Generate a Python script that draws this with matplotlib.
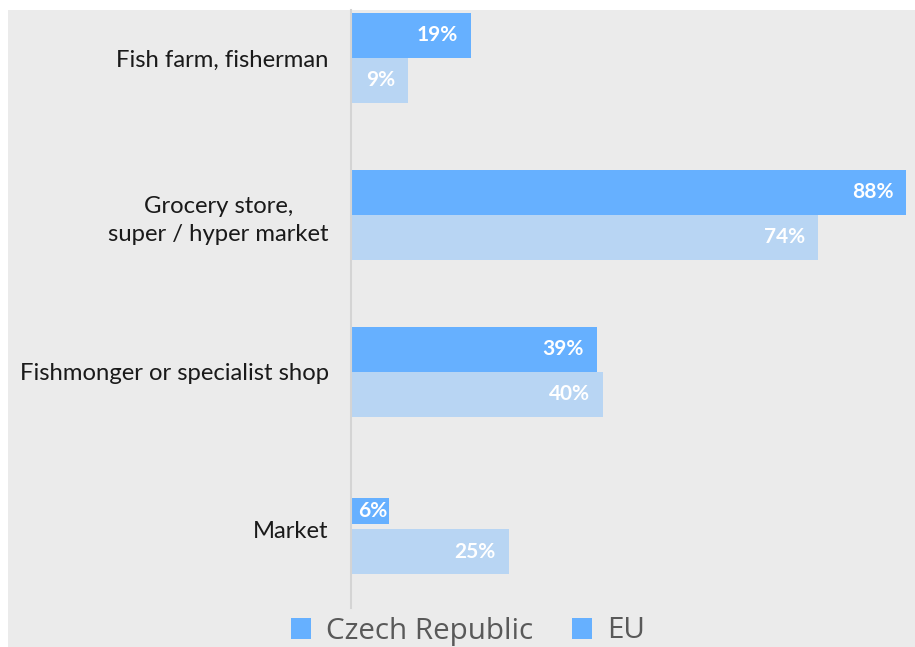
import matplotlib
matplotlib.use("Agg")
import matplotlib.pyplot as plt
from matplotlib.patches import Rectangle, Patch

categories = ["Fish farm, fisherman", "Grocery store,\nsuper / hyper market",
              "Fishmonger or specialist shop", "Market"]
czech = [19, 88, 39, 6]
eu = [9, 74, 40, 25]
series_names = ["Czech Republic", "EU"]

CZ_COLOR = "#66b0ff"
EU_COLOR = "#b8d5f3"
BG = "#ebebeb"

fig = plt.figure(figsize=(9.15, 6.47), dpi=100)
fig.patch.set_facecolor("white")
fig.patches.append(Rectangle((8 / 915, 0), 1, 1 - 10 / 647, transform=fig.transFigure,
                             facecolor=BG, edgecolor="none", zorder=-10))

ax = fig.add_axes([351 / 915, 1 - 608 / 647, 1 - 351 / 915, (608 - 10) / 647])
ax.set_facecolor("none")

h = 45 / 157
cz_h = [h, h, h, h * 26 / 45]
cz_y = [i - h / 2 for i in range(len(categories))]
cz_y[3] = 3 - (529 - 511) / 157
eu_y = [i + h / 2 for i in range(len(categories))]

ax.barh(cz_y, czech, height=cz_h, color=CZ_COLOR, edgecolor="none")
ax.barh(eu_y, eu, height=h, color=EU_COLOR, edgecolor="none")

ax.set_xlim(0, 564 / 6.31)
ax.set_ylim(3 + 79 / 157, -48 / 157)

lab_font = dict(family=["Lato", "DejaVu Sans"], fontsize=15, fontweight="bold", color="white")
for vals, ys in ((czech, cz_y), (eu, eu_y)):
    for v, y in zip(vals, ys):
        bar_px = v * 6.31
        if bar_px < 55:
            ax.annotate(f"{v}%", (0, y), xytext=(7, 0), textcoords="offset pixels",
                        ha="left", va="center", **lab_font)
        else:
            ax.annotate(f"{v}%", (v, y), xytext=(-13, 0), textcoords="offset pixels",
                        ha="right", va="center", **lab_font)

ax.set_yticks(range(len(categories)))
ax.set_yticklabels(categories, family=["Lato", "DejaVu Sans"], fontsize=17.2,
                   color="#1a1a1a", multialignment="center", linespacing=1.4)
ax.tick_params(axis="y", length=0, pad=16)
ax.set_xticks([])
for s in ("top", "right", "bottom"):
    ax.spines[s].set_visible(False)
ax.spines["left"].set_color("#d4d4d4")
ax.spines["left"].set_linewidth(1.5)

handles = [Patch(facecolor=CZ_COLOR, edgecolor="none"),
           Patch(facecolor=CZ_COLOR, edgecolor="none")]
fig.legend(handles, series_names, loc="center", bbox_to_anchor=(468 / 915, 1 - 631 / 647),
           ncol=2, frameon=False, prop={"family": ["Open Sans", "DejaVu Sans"], "size": 21.3},
           labelcolor="#595959", handlelength=0.7, handleheight=0.7, handletextpad=0.5,
           columnspacing=1.3, borderpad=0, borderaxespad=0)

fig.savefig("out.png", dpi=100)
